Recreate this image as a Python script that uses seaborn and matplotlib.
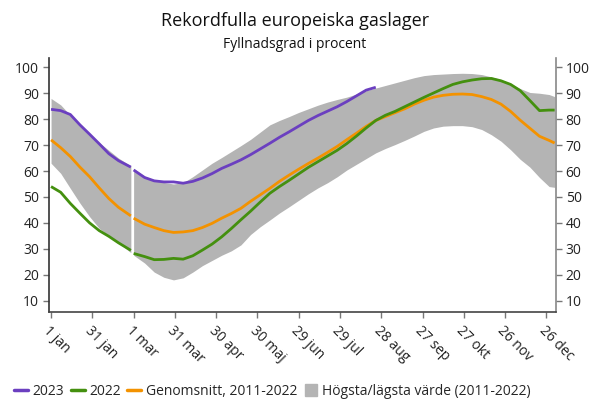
import numpy as np
import pandas as pd
import seaborn as sns
import matplotlib.pyplot as plt
from matplotlib.lines import Line2D

# dag på året (skottår), gap vid 29 feb
dagar = [0, 7, 14, 21, 28, 35, 42, 49, 58,
         60, 68, 75, 82, 89, 96, 103, 110, 117, 124, 131, 138, 145, 152, 159,
         166, 173, 180, 187, 194, 201, 208, 215, 222, 229, 236, 243, 250, 257,
         264, 271, 278, 285, 292, 299, 306, 313, 320, 327, 334, 341, 348, 355,
         362, 366]

v2023 = [83.8, 83.3, 81.8, 77.8, 74.2, 70.5, 66.7, 64.0, 61.5,
         60.4, 57.5, 56.2, 55.8, 55.8, 55.3, 56.0, 57.3, 59.0, 61.0, 62.6,
         64.3, 66.3, 68.5, 70.7, 73.0, 75.1, 77.3, 79.5, 81.4, 83.1, 84.8,
         86.8, 89.0, 91.2, 92.3]

v2022 = [54.0, 51.8, 47.5, 43.7, 40.0, 37.0, 34.8, 32.3, 29.4,
         28.2, 27.0, 25.8, 25.9, 26.3, 26.0, 27.3, 29.5, 31.8, 34.6, 37.8,
         41.2, 44.5, 48.0, 51.4, 54.0, 56.4, 58.9, 61.4, 63.6, 65.8, 68.0,
         70.6, 73.5, 76.6, 79.5, 81.5, 83.0, 84.8, 86.6, 88.4, 90.1, 91.8,
         93.4, 94.4, 95.1, 95.6, 95.7, 94.8, 93.4, 91.0, 87.2, 83.3, 83.5,
         83.5]

snitt = [72.0, 69.0, 65.6, 61.5, 57.8, 53.5, 49.4, 46.0, 42.7,
         41.8, 39.5, 38.2, 37.0, 36.3, 36.5, 37.0, 38.2, 39.8, 41.8, 43.6,
         45.6, 48.3, 50.8, 53.3, 56.0, 58.4, 60.7, 62.9, 65.0, 67.2, 69.5,
         72.1, 74.6, 77.2, 79.5, 81.0, 82.5, 84.0, 85.8, 87.3, 88.5, 89.2,
         89.6, 89.7, 89.5, 88.7, 87.6, 85.8, 83.0, 79.6, 76.5, 73.4, 71.8,
         70.8]

hogst = [88.0, 85.5, 81.5, 77.5, 74.2, 71.0, 68.0, 65.0, 62.0,
         61.0, 58.0, 56.6, 55.6, 55.0, 55.5, 57.8, 60.4, 63.0, 65.2, 67.5,
         69.8, 72.2, 75.0, 77.8, 79.5, 81.0, 82.6, 84.0, 85.4, 86.6, 87.6,
         88.5, 89.7, 91.0, 92.0, 93.0, 94.0, 95.0, 96.0, 96.8, 97.2, 97.4,
         97.6, 97.7, 97.6, 97.2, 96.3, 95.3, 93.7, 91.8, 90.3, 90.0, 89.5,
         88.7]

lagst = [63.0, 59.1, 53.3, 47.6, 42.4, 37.9, 35.0, 32.3, 28.5,
         27.5, 24.5, 21.0, 19.0, 18.0, 18.8, 21.0, 23.5, 25.5, 27.5, 29.2,
         31.5, 35.5, 38.5, 41.1, 43.8, 46.2, 48.7, 51.2, 53.5, 55.5, 57.8,
         60.4, 62.6, 64.8, 67.0, 68.7, 70.2, 71.8, 73.5, 75.3, 76.6, 77.3,
         77.5, 77.5, 77.1, 76.0, 74.0, 71.5, 68.2, 64.5, 61.5, 57.5, 54.0,
         53.7]

tick_dagar = [0, 30, 60, 90, 120, 150, 180, 210, 240, 270, 300, 330, 360]
tick_etiketter = ['1 jan', '31 jan', '1 mar', '31 mar', '30 apr', '30 maj', '29 jun',
                  '29 jul', '28 aug', '27 sep', '27 okt', '26 nov', '26 dec']

df = pd.DataFrame({'dag': dagar, 'v2022': v2022, 'snitt': snitt,
                   'hogst': hogst, 'lagst': lagst})
df['del'] = (df['dag'] > 59).astype(int)
df23 = pd.DataFrame({'dag': dagar[:len(v2023)], 'v2023': v2023})
df23['del'] = (df23['dag'] > 59).astype(int)

sns.set_theme(style='white')
plt.rcParams['font.family'] = ['Open Sans', 'DejaVu Sans']

c23 = '#6b3fc0'
c22 = '#44900f'
csn = '#f39200'
cband = '#b4b4b4'

fig = plt.figure(figsize=(5.96, 4.01), dpi=100)
ax = fig.add_axes([0.0822, 0.2212, 0.8507, 0.6342])

for _, d in df.groupby('del'):
    ax.fill_between(d['dag'], d['lagst'], d['hogst'], color=cband, linewidth=0)

sns.lineplot(data=df, x='dag', y='snitt', units='del', estimator=None, color=csn,
             lw=2.0, solid_capstyle='butt', ax=ax)
sns.lineplot(data=df, x='dag', y='v2022', units='del', estimator=None, color=c22,
             lw=2.0, solid_capstyle='butt', ax=ax)
sns.lineplot(data=df23, x='dag', y='v2023', units='del', estimator=None, color=c23,
             lw=2.0, solid_capstyle='butt', ax=ax)

ax.set_xlim(-1.5, 367)
ax.set_ylim(5.5, 103.6)
ax.set_xticks(tick_dagar)
ax.set_xticklabels(tick_etiketter, rotation=-45, ha='left', va='top',
                   rotation_mode='anchor')
ax.set_yticks(range(10, 101, 10))
ax.set_xlabel('')
ax.set_ylabel('')

ax.spines['top'].set_visible(False)
ax.spines['left'].set_color('#333333')
ax.spines['right'].set_color('#888888')
ax.spines['bottom'].set_color('#444444')
for s in ['left', 'right', 'bottom']:
    ax.spines[s].set_linewidth(1.2)

ax.tick_params(axis='both', direction='out', length=4, width=1, color='#777777',
               labelsize=10, labelcolor='#222222', pad=3)
ax.tick_params(axis='y', left=True, right=True, labelleft=True, labelright=True)
ax.tick_params(axis='x', bottom=True, pad=4)

fig.text(0.495, 0.948, 'Rekordfulla europeiska gaslager', ha='center', va='center',
         fontsize=13, color='#111111')
fig.text(0.495, 0.888, 'Fyllnadsgrad i procent', ha='center', va='center',
         fontsize=10, color='#111111')

handles = [Line2D([], [], color=c23, lw=2.5),
           Line2D([], [], color=c22, lw=2.5),
           Line2D([], [], color=csn, lw=2.5),
           Line2D([], [], marker='s', ls='none', color=cband, markersize=8)]
labels = ['2023', '2022', 'Genomsnitt, 2011-2022', 'Högsta/lägsta värde (2011-2022)']
fig.legend(handles, labels, loc='center', bbox_to_anchor=(0.457, 0.023), ncol=4,
           frameon=False, fontsize=10, handlelength=1.0, handletextpad=0.3,
           columnspacing=0.5, borderaxespad=0)

fig.savefig('out.png', dpi=100)
